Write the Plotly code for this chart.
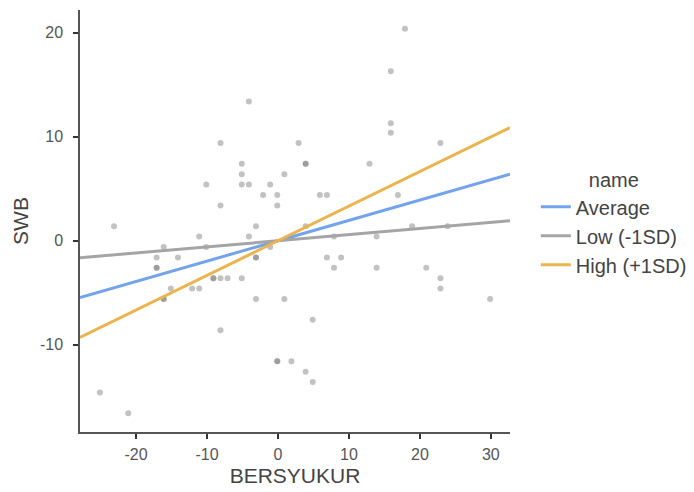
import plotly.graph_objects as go

# Scatter data (centered BERSYUKUR vs centered SWB); duplicated pairs show as darker dots
bersyukur = [-4.1, -8.1, 2.9, -5.1, -5.1, 0.9, -10.1, -5.1, -4.1, -1.1, -2.1, -0.1, -8.1, -0.1,
             17.9, 15.9, 15.9, 15.9, 22.9, 3.9, 3.9, 12.9, 5.9, 6.9, 16.9,
             -23.1, -11.1, -3.1, -4.1, -16.1, -10.1, -1.1, -17.1, -14.1, -3.1, -3.1,
             -17.1, -17.1, -9.1, -9.1, -8.1, -7.1, -5.1, -15.1, -12.1, -11.1, -16.1, -16.1,
             -3.1, 0.9, -8.1, -0.1, -0.1, 1.9, -25.1, -21.1,
             3.9, 7.9, 13.9, 18.9, 23.9, 6.9, 8.9, 7.9, 13.9, 20.9, 22.9, 22.9, 29.9,
             4.9, 3.9, 4.9]
swb = [13.4, 9.4, 9.4, 7.4, 6.4, 6.4, 5.4, 5.4, 5.4, 5.4, 4.4, 4.4, 3.4, 3.4,
       20.4, 16.3, 11.3, 10.4, 9.4, 7.4, 7.4, 7.4, 4.4, 4.4, 4.4,
       1.4, 0.4, 1.4, 0.4, -0.6, -0.6, -0.6, -1.6, -1.6, -1.6, -1.6,
       -2.6, -2.6, -3.6, -3.6, -3.6, -3.6, -3.6, -4.6, -4.6, -4.6, -5.6, -5.6,
       -5.6, -5.6, -8.6, -11.6, -11.6, -11.6, -14.6, -16.6,
       1.4, 0.4, 0.4, 1.4, 1.4, -1.6, -1.6, -2.6, -2.6, -2.6, -3.6, -4.6, -5.6,
       -7.6, -12.6, -13.6]

# Simple slopes of SWB on BERSYUKUR at three moderator levels
line_names = ["Average", "Low (-1SD)", "High (+1SD)"]
line_slopes = [0.196, 0.0586, 0.333]
line_intercepts = [0.0, 0.0, 0.0]
line_colors = ["#73a3ea", "#a5a5a5", "#eab54e"]

x_range = [-27.9, 32.7]
y_range = [-18.4, 22.2]
x_ticks = [-20, -10, 0, 10, 20, 30]
x_ticktext = ["-20", "-10", "0", "10", "20", "30"]
y_ticks = [-10, 0, 10, 20]
y_ticktext = ["-10", "0", "10", "20"]

fig = go.Figure()
fig.add_trace(go.Scatter(
    x=bersyukur, y=swb, mode="markers",
    marker=dict(size=6, color="rgba(110,110,110,0.42)", line=dict(width=0)),
    showlegend=False, hoverinfo="x+y"))

for name, b, a, c in zip(line_names, line_slopes, line_intercepts, line_colors):
    xs = x_range
    ys = [a + b * v for v in xs]
    fig.add_trace(go.Scatter(x=xs, y=ys, mode="lines", name=name,
                             line=dict(color=c, width=3)))

axis_common = dict(showgrid=False, zeroline=False, showline=True,
                   linecolor="#555555", linewidth=1.5, ticks="outside",
                   ticklen=5, tickwidth=1.5, tickcolor="#333333",
                   tickfont=dict(size=16, color="#555555"))

fig.update_layout(
    width=694, height=492,
    margin=dict(l=72, r=192, t=2, b=68, autoexpand=False),
    paper_bgcolor="white", plot_bgcolor="white",
    font=dict(family="Liberation Sans, Arial, sans-serif", color="#444444"),
    xaxis=dict(range=x_range, tickvals=x_ticks, ticktext=x_ticktext,
               ticklabelstandoff=2,
               title=dict(text="BERSYUKUR", font=dict(size=21, color="#444444"), standoff=6),
               **axis_common),
    yaxis=dict(range=y_range, tickvals=y_ticks, ticktext=y_ticktext,
               ticklabelstandoff=7,
               title=dict(text="SWB", font=dict(size=21, color="#444444"), standoff=6),
               **axis_common),
    legend=dict(title=dict(text="name", font=dict(size=20, color="#444444"), side="top center"),
                font=dict(size=20, color="#444444"),
                x=1.06, xanchor="left", y=0.496, yanchor="middle",
                tracegroupgap=0, itemwidth=30, bgcolor="rgba(0,0,0,0)"),
)

fig.write_html("out.html")
